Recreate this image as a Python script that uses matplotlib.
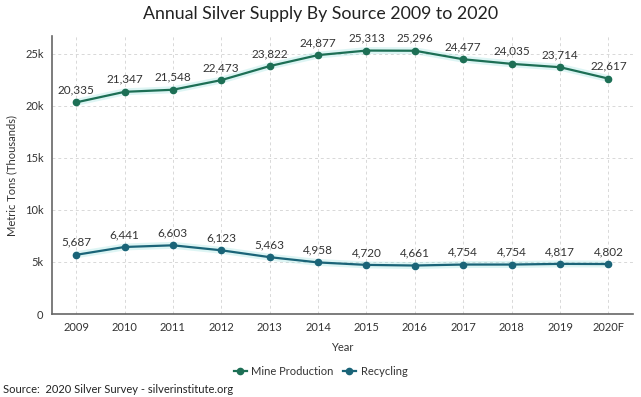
import numpy as np
import matplotlib.pyplot as plt
from matplotlib.ticker import FuncFormatter

plt.rcParams['font.family'] = ['Lato', 'DejaVu Sans']

years = ["2009", "2010", "2011", "2012", "2013", "2014", "2015", "2016",
         "2017", "2018", "2019", "2020F"]
mine_production = [20335, 21347, 21548, 22473, 23822, 24877, 25313, 25296,
                   24477, 24035, 23714, 22617]
recycling = [5687, 6441, 6603, 6123, 5463, 4958, 4720, 4661,
             4754, 4754, 4817, 4802]

c_mine = "#1d6f55"
c_recy = "#1a6478"

fig = plt.figure(figsize=(6.41, 3.97), dpi=100)
ax = fig.add_axes([0.081, 0.209, 0.906, 0.700])

x = np.arange(len(years))

handles = []
for vals, col, name in [(mine_production, c_mine, "Mine Production"),
                        (recycling, c_recy, "Recycling")]:
    # faint halo under the line
    ax.plot(x, vals, color="#9fe3e0", linewidth=5, alpha=0.35,
            solid_capstyle="round", zorder=2)
    h, = ax.plot(x, vals, color=col, linewidth=1.6, marker="o", markersize=4.5,
                 label=name, zorder=3)
    handles.append(h)
    for xi, v in zip(x, vals):
        ax.annotate(f"{v:,}", (xi, v), xytext=(0, 5), textcoords="offset points",
                    ha="center", va="bottom", fontsize=8.5, color="#333333")

ax.set_xlim(-0.5, len(years) - 0.5)
ax.set_ylim(0, 26700)
ax.set_xticks(x)
ax.set_xticklabels(years)
ax.set_yticks([0, 5000, 10000, 15000, 20000, 25000])
ax.yaxis.set_major_formatter(FuncFormatter(lambda v, p: "0" if v == 0 else f"{int(v/1000)}k"))

ax.grid(True, linestyle=(0, (3, 3)), color="#d8d8d8", linewidth=0.7)
ax.set_axisbelow(True)
for s in ["top", "right"]:
    ax.spines[s].set_visible(False)
for s in ["left", "bottom"]:
    ax.spines[s].set_color("#666666")
    ax.spines[s].set_linewidth(1.2)
ax.tick_params(length=0, labelsize=8, colors="#333333", pad=6)

ax.set_xlabel("Year", fontsize=8, color="#333333", labelpad=6)
ax.set_ylabel("Metric Tons (Thousands)", fontsize=8, color="#333333", labelpad=4)
ax.yaxis.set_label_coords(-0.06, 0.5)

fig.suptitle("Annual Silver Supply By Source 2009 to 2020", fontsize=12.8,
             color="#222222", y=0.985)

fig.legend(handles=handles, loc="center", bbox_to_anchor=(0.5, 0.065), ncol=2,
           frameon=False, fontsize=8, handlelength=1.2, handletextpad=0.4,
           columnspacing=0.8, labelcolor="#333333")

fig.text(0.005, 0.005, "Source:  2020 Silver Survey - silverinstitute.org",
         fontsize=8, color="#222222", ha="left", va="bottom")

fig.savefig("out.png", dpi=100)
